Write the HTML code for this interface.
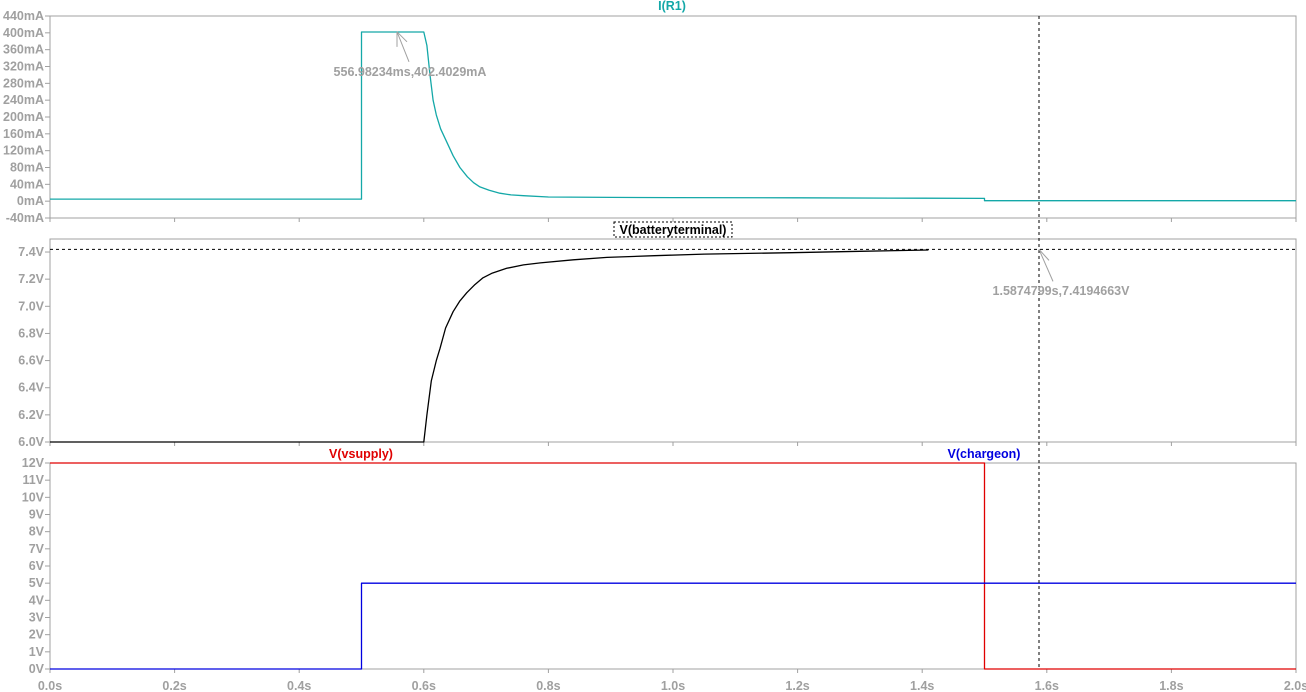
<!DOCTYPE html>
<html><head><meta charset="utf-8"><style>
html,body{margin:0;padding:0;background:#fff;}
svg{display:block;font-family:"Liberation Sans",Arial,sans-serif;font-weight:bold;font-size:12.5px;}
</style></head><body>
<svg id="c" width="1306" height="692"></svg>
<script>
const timeTicks=[0,0.2,0.4,0.6,0.8,1.0,1.2,1.4,1.6,1.8,2.0];
const timeTickLabels=["0.0s","0.2s","0.4s","0.6s","0.8s","1.0s","1.2s","1.4s","1.6s","1.8s","2.0s"];
const iTicks=[-40,0,40,80,120,160,200,240,280,320,360,400,440];
const vbTicks=[6.0,6.2,6.4,6.6,6.8,7.0,7.2,7.4];
const vTicks=[0,1,2,3,4,5,6,7,8,9,10,11,12];
const iTime=[0,0.5,0.5,0.6,0.605,0.61,0.615,0.62,0.627,0.637,0.647,0.658,0.67,0.68,0.69,0.705,0.722,0.74,0.76,0.8,0.9,1.0,1.2,1.4,1.5,1.5,2.0];
const iVal=[5,5,402,402,370,300,240,205,172,140,108,80,58,44,34,26,19,15,13,10,9,8.5,8,7,6.5,1,1];
const vbTime=[0,0.6,0.605,0.612,0.62,0.626,0.635,0.647,0.658,0.669,0.682,0.695,0.71,0.733,0.76,0.787,0.84,0.894,0.97,1.05,1.19,1.3,1.41];
const vbVal=[6.0,6.0,6.2,6.45,6.6,6.69,6.84,6.96,7.04,7.10,7.16,7.21,7.245,7.28,7.305,7.32,7.343,7.36,7.373,7.385,7.395,7.405,7.415];
const supTime=[0,1.5,1.5,2.0];
const supVal=[12,12,0,0];
const chgTime=[0,0.5,0.5,2.0];
const chgVal=[0,0,5,5];
const cursorT=1.5874799, cursorV=7.4194663, markT=0.55698234, markI=402.4029;

const NS="http://www.w3.org/2000/svg";
const svg=document.getElementById('c');
function el(tag,attrs,parent){const e=document.createElementNS(NS,tag);for(const k in attrs)e.setAttribute(k,attrs[k]);(parent||svg).appendChild(e);return e;}
const X0=50,X1=1296;
const sx=t=>X0+(t/2)*(X1-X0);
const P1={top:16,bot:218,min:-40,max:440};
const P2={top:239,bot:442,min:6.0,max:6.0+(442-239)/135.7};
const P3={top:463,bot:669,min:0,max:12};
const sy=(p,v)=>p.bot-(v-p.min)/(p.max-p.min)*(p.bot-p.top);
const GR="#a0a0a0";

function frame(p,name){
  const r=el('rect',{x:X0,y:p.top,width:X1-X0,height:p.bot-p.top,fill:'none',stroke:GR,'stroke-width':1});
  
  
}
function yAxis(p,ticks,fmt,name){
  const g=el('g',{});
  
  
  ticks.forEach(v=>{
    const y=sy(p,v);
    el('line',{x1:X0-5,x2:X0,y1:y,y2:y,stroke:GR},g);
    const t=el('text',{x:X0-6,y:y+4,'text-anchor':'end',fill:GR},g);
    t.textContent=fmt(v);
  });
}
function bottomTicks(p){
  timeTicks.forEach(t=>{el('line',{x1:sx(t),x2:sx(t),y1:p.bot,y2:p.bot+4,stroke:GR});});
}
function path(p,ts,vs,color,name){
  let d='';ts.forEach((t,i)=>{d+=(i?'L':'M')+sx(t).toFixed(1)+','+sy(p,vs[i]).toFixed(1);});
  const e=el('path',{d:d,fill:'none',stroke:color,'stroke-width':1.3,'stroke-linejoin':'round'});
  
  
}
function label(x,y,txt,color,name,anchor){
  const t=el('text',{x:x,y:y,fill:color,'text-anchor':anchor||'middle'});
  t.textContent=txt;
  
  
  return t;
}

frame(P1,'current-pane');frame(P2,'battery-pane');frame(P3,'supply-pane');
yAxis(P1,iTicks,v=>v+'mA','current-y-axis');
yAxis(P2,vbTicks,v=>v.toFixed(1)+'V','battery-y-axis');
yAxis(P3,vTicks,v=>v+'V','supply-y-axis');
bottomTicks(P1);bottomTicks(P2);bottomTicks(P3);
const xg=el('g',{});


timeTicks.forEach((t,i)=>{const e=el('text',{x:sx(t),y:690,'text-anchor':'middle',fill:GR},xg);e.textContent=timeTickLabels[i];});

path(P1,iTime,iVal,'#14a8a8','current-trace');
path(P2,vbTime,vbVal,'#000','battery-trace');
path(P3,supTime,supVal,'#e00000','vsupply-trace');
path(P3,chgTime,chgVal,'#0000e0','chargeon-trace');

label(672,10,'I(R1)','#14a8a8','current-title');
label(673,234,'V(batteryterminal)','#000','battery-title');
el('rect',{x:614,y:222,width:118,height:15,fill:'none',stroke:'#000','stroke-dasharray':'2,2'});
label(361,458,'V(vsupply)','#e00000','vsupply-title');
label(984,458,'V(chargeon)','#0000e0','chargeon-title');

const cx=sx(cursorT);
const cl=el('line',{x1:cx,x2:cx,y1:P1.top,y2:P3.bot,stroke:'#000','stroke-dasharray':'3,3'});


const ch=el('line',{x1:X0,x2:X1,y1:sy(P2,cursorV),y2:sy(P2,cursorV),stroke:'#000','stroke-dasharray':'3,3'});


const mx=sx(markT),my=sy(P1,markI);
el('line',{x1:mx,y1:my,x2:mx+12,y2:my+30,stroke:GR});
el('line',{x1:mx,y1:my,x2:mx,y2:my+15,stroke:GR});
el('line',{x1:mx,y1:my,x2:mx+10,y2:my+10,stroke:GR});
label(410,76,'556.98234ms,402.4029mA',GR,'current-annotation');
const ay=sy(P2,cursorV);
el('line',{x1:cx,y1:ay,x2:cx+14,y2:ay+32,stroke:GR});
el('line',{x1:cx,y1:ay,x2:cx+10,y2:ay+11,stroke:GR});
label(1061,295,'1.5874799s,7.4194663V',GR,'battery-annotation');
</script>
</body></html>
